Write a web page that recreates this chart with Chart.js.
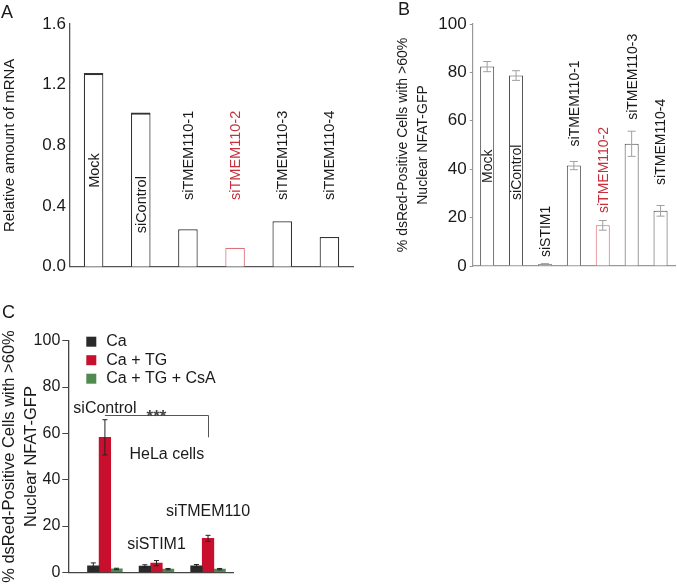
<!DOCTYPE html>
<html>
<head>
<meta charset="utf-8">
<script src="https://cdn.jsdelivr.net/npm/chart.js@4.4.0/dist/chart.umd.min.js"></script>
<style>
  body { margin: 0; background: #fff; width: 677px; height: 584px; position: relative; overflow: hidden; }
  canvas { position: absolute; }
</style>
</head>
<body>
<canvas id="chartA" width="360" height="290" style="left:0;top:0"></canvas>
<canvas id="chartB" width="297" height="290" style="left:380px;top:0"></canvas>
<canvas id="chartC" width="340" height="294" style="left:0;top:290px"></canvas>
<script>
// panel A - mRNA level
const labelsA = ["Mock", "siControl", "siTMEM110-1", "siTMEM110-2", "siTMEM110-3", "siTMEM110-4"];
const mrnaA = [1.277, 1.016, 0.247, 0.125, 0.3, 0.196];

// panel B - nuclear NFAT
const labelsB = ["Mock", "siControl", "siSTIM1", "siTMEM110-1", "siTMEM110-2", "siTMEM110-3", "siTMEM110-4"];
const nfatB = [82.4, 78.7, 0.7, 41.5, 16.8, 50.5, 22.8];
const errB = [2.1, 2.0, 0.3, 1.7, 2.0, 5.2, 2.2];

// panel C - HeLa cells
const groupsC = ["siControl", "siSTIM1", "siTMEM110"];
const seriesC = ["Ca", "Ca + TG", "Ca + TG + CsA"];
const caC = [2.8, 2.7, 2.8];
const caErrC = [1.3, 0.6, 0.6];
const caTgC = [58.3, 4.0, 14.7];
const caTgErrC = [7.6, 1.1, 1.3];
const csaC = [1.5, 1.4, 1.4];
const csaErrC = [0.3, 0.3, 0.3];

const FONT = "'Liberation Sans', Arial, sans-serif";
const INK = "#1a1a1a";
const RED_INK = "#c8303c";
const HIGHLIGHT = "siTMEM110-2";

Chart.defaults.font.family = FONT;
Chart.defaults.color = INK;
Chart.defaults.animation = false;

// vertical labels, written upward from a start value on the y scale
const barLabels = {
  id: "barLabels",
  afterDatasetsDraw(chart, args, opts) {
    const { ctx } = chart;
    const y = chart.scales.y;
    const meta = chart.getDatasetMeta(0);
    ctx.save();
    ctx.font = opts.size + "px " + FONT;
    ctx.textBaseline = "middle";
    ctx.textAlign = "left";
    chart.data.labels.forEach((text, i) => {
      const bar = meta.data[i];
      ctx.save();
      ctx.translate(bar.x + 1, y.getPixelForValue(opts.start[i]));
      ctx.rotate(-Math.PI / 2);
      ctx.fillStyle = text === HIGHLIGHT ? RED_INK : INK;
      ctx.fillText(text, 0, 0);
      ctx.restore();
    });
    ctx.restore();
  }
};

const errorBars = {
  id: "errorBars",
  afterDatasetsDraw(chart, args, opts) {
    const { ctx } = chart;
    const y = chart.scales.y;
    ctx.save();
    ctx.strokeStyle = opts.color;
    ctx.lineWidth = 1;
    chart.data.datasets.forEach((ds, di) => {
      if (!ds.errors) return;
      const meta = chart.getDatasetMeta(di);
      meta.data.forEach((bar, i) => {
        const v = meta.controller.getParsed(i).y;
        const e = ds.errors[i];
        const top = y.getPixelForValue(v + e);
        const bot = y.getPixelForValue(Math.max(v - e, 0));
        ctx.beginPath();
        ctx.moveTo(bar.x, top); ctx.lineTo(bar.x, bot);
        ctx.moveTo(bar.x - opts.cap, top); ctx.lineTo(bar.x + opts.cap, top);
        ctx.moveTo(bar.x - opts.cap, bot); ctx.lineTo(bar.x + opts.cap, bot);
        ctx.stroke();
      });
    });
    ctx.restore();
  }
};

const panelLetter = {
  id: "panelLetter",
  afterDraw(chart, args, opts) {
    const { ctx } = chart;
    ctx.save();
    ctx.font = "18px " + FONT;
    ctx.fillStyle = INK;
    ctx.textAlign = "left";
    ctx.textBaseline = "alphabetic";
    ctx.fillText(opts.text, opts.x, opts.y);
    ctx.restore();
  }
};

// legend, group names, bracket and note of panel C
const panelC = {
  id: "panelC",
  afterDraw(chart, args, opts) {
    const { ctx, chartArea } = chart;
    const x = chart.scales.x, y = chart.scales.y;
    ctx.save();
    ctx.font = "16px " + FONT;
    ctx.textBaseline = "middle";
    ctx.textAlign = "left";
    chart.data.datasets.forEach((ds, i) => {
      const cy = chartArea.top + 1 + i * 18.5;
      ctx.fillStyle = ds.backgroundColor;
      ctx.fillRect(chartArea.left + 18, cy - 5, 10, 10);
      ctx.fillStyle = INK;
      ctx.fillText(ds.label, chartArea.left + 38, cy);
    });

    ctx.textBaseline = "alphabetic";
    ctx.textAlign = "center";
    chart.data.labels.forEach((g, i) => {
      ctx.fillText(g, x.getPixelForValue(i + 1), y.getPixelForValue(opts.groupBase[i]));
    });
    ctx.fillText(opts.note.text, x.getPixelForValue(opts.note.x), y.getPixelForValue(opts.note.y));

    const b = opts.bracket;
    const by = Math.round(y.getPixelForValue(b.y)) + 0.5;
    const bx2 = Math.round(x.getPixelForValue(b.to)) + 0.5;
    ctx.strokeStyle = "#555";
    ctx.lineWidth = 1;
    ctx.beginPath();
    ctx.moveTo(x.getPixelForValue(b.from), by);
    ctx.lineTo(bx2, by);
    ctx.lineTo(bx2, y.getPixelForValue(b.drop));
    ctx.stroke();
    ctx.font = "bold 17px " + FONT;
    ctx.fillStyle = "#444";
    ctx.fillText("***", x.getPixelForValue((b.from + b.to) / 2), by + 6);
    ctx.restore();
  }
};

new Chart(document.getElementById("chartA"), {
  type: "bar",
  data: {
    labels: labelsA,
    datasets: [{
      data: mrnaA,
      backgroundColor: "#fff",
      borderColor: labelsA.map(l => l === HIGHLIGHT ? "#d9727c" : "#333"),
      borderWidth: c => c.dataIndex < 2 ? { top: 2.2, left: 1.2, right: 1.2, bottom: 0 } : 1.2,
      categoryPercentage: 0.5,
      barPercentage: 0.83
    }]
  },
  options: {
    responsive: false,
    layout: { padding: { left: 0, top: 24, right: 7, bottom: 23.3 } },
    plugins: {
      legend: { display: false },
      tooltip: { enabled: false },
      barLabels: { size: 14.5, start: [0.52, 0.22, 0.44, 0.44, 0.44, 0.44] },
      panelLetter: { text: "A", x: 1, y: 18 }
    },
    scales: {
      x: {
        grid: { display: false, drawTicks: false },
        ticks: { display: false },
        border: { color: "#555", width: 1.3 },
        afterFit: s => { s.height = 0; }
      },
      y: {
        min: 0, max: 1.6,
        ticks: { stepSize: 0.4, callback: v => v.toFixed(1), font: { size: 17 }, color: INK, padding: 4 },
        grid: { display: false, drawTicks: false },
        border: { color: "#555", width: 1.3 },
        title: { display: true, text: "Relative amount of mRNA", font: { size: 15 }, color: INK, padding: { top: 1 } },
        afterFit: s => { s.width = 70; }
      }
    }
  },
  plugins: [barLabels, panelLetter]
});

new Chart(document.getElementById("chartB"), {
  type: "bar",
  data: {
    labels: labelsB,
    datasets: [{
      data: nfatB,
      errors: errB,
      backgroundColor: "#fff",
      borderColor: labelsB.map(l => l === HIGHLIGHT ? "#d9606a" : "#444"),
      borderWidth: 1,
      categoryPercentage: 0.5,
      barPercentage: 0.97
    }]
  },
  options: {
    responsive: false,
    layout: { padding: { left: 0, top: 24, right: 2, bottom: 24 } },
    plugins: {
      legend: { display: false },
      tooltip: { enabled: false },
      errorBars: { color: "#a0a0a0", cap: 4 },
      barLabels: { size: 14, start: [34.3, 27.3, 3.7, 49.4, 21.9, 60.4, 33.5] },
      panelLetter: { text: "B", x: 18, y: 15 }
    },
    scales: {
      x: {
        grid: { display: false, drawTicks: false },
        ticks: { display: false },
        border: { color: "#999", width: 1.2 },
        afterFit: s => { s.height = 0; }
      },
      y: {
        min: 0, max: 100,
        ticks: { stepSize: 20, font: { size: 17 }, color: INK, padding: 3 },
        grid: { display: true, drawOnChartArea: false, drawTicks: true, tickLength: 3, color: "#999" },
        border: { color: "#999", width: 1.2 },
        title: {
          display: true,
          text: ["% dsRed-Positive Cells with >60%", "Nuclear NFAT-GFP"],
          font: { size: 14, lineHeight: 1.43 }, color: INK, padding: { top: 13 }
        },
        afterFit: s => { s.width = 92.7; }
      }
    }
  },
  plugins: [errorBars, barLabels, panelLetter]
});

const valuesC = [caC, caTgC, csaC];
const errorsC = [caErrC, caTgErrC, csaErrC];
const colorsC = ["#2a2a2a", "#c8102e", "#4f8a4f"];

new Chart(document.getElementById("chartC"), {
  type: "bar",
  data: {
    labels: groupsC,
    datasets: seriesC.map((name, k) => ({
      label: name,
      data: groupsC.map((g, i) => ({ x: i + 1, y: valuesC[k][i] })),
      errors: errorsC[k],
      backgroundColor: colorsC[k],
      borderWidth: 0,
      barThickness: 11.6
    }))
  },
  options: {
    responsive: false,
    layout: { padding: { left: 0, top: 50.7, right: 106.7, bottom: 9.5 } },
    plugins: {
      legend: { display: false },
      tooltip: { enabled: false },
      errorBars: { color: "#222", cap: 2.5 },
      panelLetter: { text: "C", x: 2, y: 28 },
      panelC: {
        groupBase: [68.7, 10.2, 24.2],
        note: { text: "HeLa cells", x: 2.2, y: 49 },
        bracket: { from: 1, to: 3, y: 67.9, drop: 58.3 }
      }
    },
    scales: {
      x: {
        type: "linear",
        min: 0.29, max: 3.49,
        offset: false,
        grid: { display: false, drawTicks: false },
        ticks: { display: false },
        border: { color: "#444", width: 1.3 },
        afterFit: s => { s.height = 0; }
      },
      y: {
        min: 0, max: 100,
        ticks: { stepSize: 20, font: { size: 16 }, color: INK, padding: 2 },
        grid: { display: true, drawOnChartArea: false, drawTicks: true, tickLength: 6, color: "#444" },
        border: { color: "#444", width: 1.3 },
        title: {
          display: true,
          text: ["% dsRed-Positive Cells with >60%", "Nuclear NFAT-GFP"],
          font: { size: 16.5, lineHeight: 1.333 }, color: INK, padding: { top: -2 }
        },
        afterFit: s => { s.width = 68.3; }
      }
    }
  },
  plugins: [errorBars, panelC, panelLetter]
});
</script>
</body>
</html>
